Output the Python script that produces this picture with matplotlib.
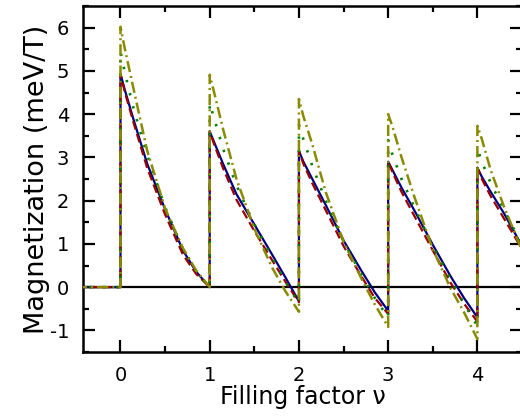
import matplotlib
matplotlib.use("Agg")
import matplotlib.pyplot as plt
from matplotlib.ticker import MultipleLocator

plt.rcParams['font.family'] = ['DejaVu Sans']
plt.rcParams['axes.unicode_minus'] = False

# positions inside each Landau-level segment (fraction of filling factor)
offsets = [0, 0.05, 0.15, 0.3, 0.5, 0.7, 0.85, 1.0]

# magnetization per segment nu = k .. k+1 (last one only up to 4.5)
blue = [
    [4.93, 4.55, 3.85, 2.85, 1.80, 0.85, 0.35, 0.00],
    [3.60, 3.35, 2.85, 2.15, 1.45, 0.75, 0.22, -0.33],
    [3.15, 2.90, 2.50, 1.90, 1.08, 0.38, -0.12, -0.55],
    [2.90, 2.70, 2.30, 1.75, 0.98, 0.25, -0.25, -0.70],
    [2.76, 2.55, 2.20, 1.70, 0.95],
]
red = [
    [4.93, 4.50, 3.78, 2.75, 1.68, 0.75, 0.30, 0.00],
    [3.60, 3.30, 2.75, 2.02, 1.30, 0.62, 0.12, -0.35],
    [3.15, 2.85, 2.40, 1.78, 0.95, 0.25, -0.25, -0.62],
    [2.90, 2.65, 2.20, 1.62, 0.85, 0.10, -0.38, -0.80],
    [2.76, 2.50, 2.10, 1.58, 0.88],
]
green = [
    [5.45, 4.95, 4.10, 3.05, 1.85, 0.88, 0.35, 0.00],
    [4.25, 3.90, 3.20, 2.35, 1.45, 0.68, 0.12, -0.38],
    [3.75, 3.42, 2.80, 2.00, 1.05, 0.30, -0.25, -0.70],
    [3.40, 3.05, 2.50, 1.82, 0.95, 0.18, -0.38, -0.90],
    [3.20, 2.90, 2.40, 1.78, 0.98],
]
olive = [
    [6.02, 5.50, 4.55, 3.15, 1.82, 0.90, 0.38, 0.00],
    [4.91, 4.50, 3.65, 2.50, 1.35, 0.45, -0.10, -0.57],
    [4.35, 3.95, 3.30, 2.20, 1.05, 0.20, -0.40, -0.92],
    [4.00, 3.70, 3.00, 2.05, 0.88, -0.03, -0.58, -1.20],
    [3.73, 3.42, 2.70, 1.85, 0.85],
]


def build(segs):
    x = [-0.5, 0.0]
    y = [0.0, 0.0]
    for k, seg in enumerate(segs):
        x += [k + o for o in offsets[:len(seg)]]
        y += seg
    return x, y


fig = plt.figure(figsize=(5.2, 4.18), dpi=100)
ax = fig.add_axes([83 / 520, 66 / 418, 439 / 520, 346 / 418])

ax.axhline(0, color='black', lw=1.6, zorder=1)

x, y = build(blue)
ax.plot(x, y, color='#000080', lw=1.6, zorder=2)
x, y = build(red)
ax.plot(x, y, color='#990000', lw=1.6, dashes=(4, 2), zorder=3)
x, y = build(green)
ax.plot(x, y, color='#008000', lw=1.9, dashes=(0.9, 4.2), zorder=4)
x, y = build(olive)
ax.plot(x, y, color='#8a8a00', lw=1.8, dashes=(4.5, 1.6, 0.8, 1.6), zorder=5)

ax.set_xlim(-0.42, 4.5)
ax.set_ylim(-1.5, 6.5)
ax.xaxis.set_major_locator(MultipleLocator(1))
ax.xaxis.set_minor_locator(MultipleLocator(0.5))
ax.yaxis.set_major_locator(MultipleLocator(1))
ax.yaxis.set_minor_locator(MultipleLocator(0.5))

for s in ax.spines.values():
    s.set_linewidth(1.8)
ax.tick_params(which='both', direction='in', top=True, right=True, width=1.6)
ax.tick_params(which='major', length=8.5, labelsize=14, pad=10)
ax.tick_params(which='minor', length=4.5)

ax.set_xlabel('Filling factor ν', fontsize=17, labelpad=0)
ax.set_ylabel('Magnetization (meV/T)', fontsize=19.5, labelpad=0)

fig.savefig('out.png', dpi=100)
